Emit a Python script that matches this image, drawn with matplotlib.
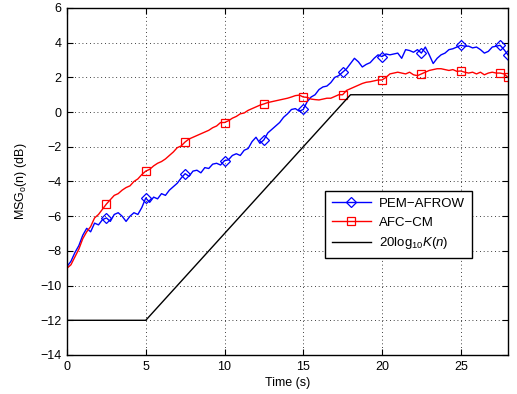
import numpy as np
import matplotlib
matplotlib.use("Agg")
import matplotlib.pyplot as plt

plt.rcParams['font.family'] = ['Liberation Sans', 'DejaVu Sans']
plt.rcParams['mathtext.fontset'] = 'custom'
plt.rcParams['mathtext.rm'] = 'Liberation Sans'
plt.rcParams['mathtext.it'] = 'Liberation Sans:italic'

# MSG_o(n) in dB, sampled every 0.25 s from 0 to 28 s
afc_cm = [-9.0, -8.8, -8.35, -7.9, -7.3, -6.9, -6.6, -6.1, -5.9, -5.6,
          -5.3, -5.05, -4.8, -4.7, -4.5, -4.35, -4.25, -4.0, -3.85, -3.6,
          -3.4, -3.3, -3.1, -2.95, -2.85, -2.7, -2.5, -2.3, -2.05, -1.95,
          -1.72, -1.55, -1.45, -1.35, -1.25, -1.15, -1.05, -0.9, -0.8, -0.6,
          -0.6, -0.5, -0.35, -0.25, -0.1, -0.05, 0.1, 0.2, 0.3, 0.4,
          0.47, 0.55, 0.6, 0.65, 0.7, 0.75, 0.8, 0.87, 0.95, 0.98,
          0.87, 0.85, 0.75, 0.72, 0.7, 0.75, 0.8, 0.8, 0.9, 1.0,
          1.0, 1.25, 1.35, 1.45, 1.55, 1.65, 1.72, 1.75, 1.8, 1.85,
          1.85, 2.0, 2.2, 2.25, 2.3, 2.25, 2.2, 2.3, 2.15, 2.1,
          2.2, 2.3, 2.4, 2.45, 2.5, 2.5, 2.45, 2.4, 2.45, 2.35,
          2.37, 2.3, 2.25, 2.3, 2.2, 2.3, 2.15, 2.25, 2.3, 2.25,
          2.25, 2.2, 2.0]

pem_afrow = [-8.9, -8.6, -8.1, -7.7, -7.1, -6.7, -6.9, -6.4, -6.5, -6.2,
             -6.1, -6.3, -5.9, -5.8, -6.0, -6.3, -6.0, -5.8, -5.9, -5.5,
             -4.95, -5.2, -4.9, -5.0, -4.7, -4.8, -4.5, -4.3, -4.1, -3.8,
             -3.55, -3.7, -3.4, -3.35, -3.5, -3.2, -3.25, -3.0, -2.95, -3.05,
             -2.8, -2.75, -2.5, -2.4, -2.5, -2.2, -2.1, -1.7, -1.45, -1.8,
             -1.6, -1.2, -1.0, -0.8, -0.6, -0.3, -0.1, 0.15, 0.2, 0.05,
             0.15, 0.6, 0.87, 1.0, 1.3, 1.45, 1.5, 1.7, 2.0, 2.1,
             2.3, 2.5, 2.8, 3.1, 2.9, 2.6, 2.75, 2.85, 3.1, 3.3,
             3.2, 3.35, 3.3, 3.35, 3.4, 3.1, 3.6, 3.55, 3.45, 3.6,
             3.4, 3.75, 3.3, 2.8, 3.1, 3.3, 3.4, 3.6, 3.65, 3.75,
             3.85, 3.8, 3.8, 3.7, 3.75, 3.6, 3.4, 3.5, 3.75, 3.8,
             3.85, 3.6, 3.3]

time_s = np.arange(len(afc_cm)) * 0.25

k_time = [0, 5, 18, 28]
k_db = [-12, -12, 1, 1]

marks = list(range(10, len(afc_cm), 10)) + [len(afc_cm) - 1]

fig = plt.figure(figsize=(5.17, 3.94), dpi=100)
ax = fig.add_axes([0.1296, 0.099, 0.8530, 0.8807])

ax.plot(time_s, pem_afrow, color='b', lw=1.0, marker='D', markersize=5.2,
        markerfacecolor='none', markeredgewidth=0.9, markevery=marks, label='PEM\u2212AFROW')
ax.plot(time_s, afc_cm, color='r', lw=1.0, marker='s', markersize=5.2,
        markerfacecolor='none', markeredgewidth=0.9, markevery=marks, label='AFC\u2212CM')
ax.plot(k_time, k_db, color='k', lw=1.0, label=r'20log$_{10}$$\mathit{K(n)}$')

ax.set_xlim(0, 28)
ax.set_ylim(-14, 6)
ax.set_xticks([0, 5, 10, 15, 20, 25])
ax.set_yticks(range(-14, 7, 2))
ax.set_yticklabels(['\u2212%d' % -v if v < 0 else '%d' % v for v in range(-14, 7, 2)])
ax.tick_params(direction='in', top=True, right=True, labelsize=9, length=4, width=0.8, pad=4)
ax.grid(True, color='k', linestyle=(0, (1, 3.5)), linewidth=0.6)
for s in ax.spines.values():
    s.set_linewidth(1.0)

ax.set_xlabel('Time (s)', fontsize=9, labelpad=3)
ax.set_ylabel('MSG$_\\mathrm{o}$(n) (dB)', fontsize=9, labelpad=8)

leg = ax.legend(loc='upper left', bbox_to_anchor=(0.585, 0.472), fontsize=9.5,
                fancybox=False, framealpha=1, edgecolor='k', handlelength=3.0,
                borderpad=0.5, labelspacing=0.5, handletextpad=0.6,
                borderaxespad=0)
leg.get_frame().set_linewidth(1.0)

fig.savefig('out.png', dpi=100)
